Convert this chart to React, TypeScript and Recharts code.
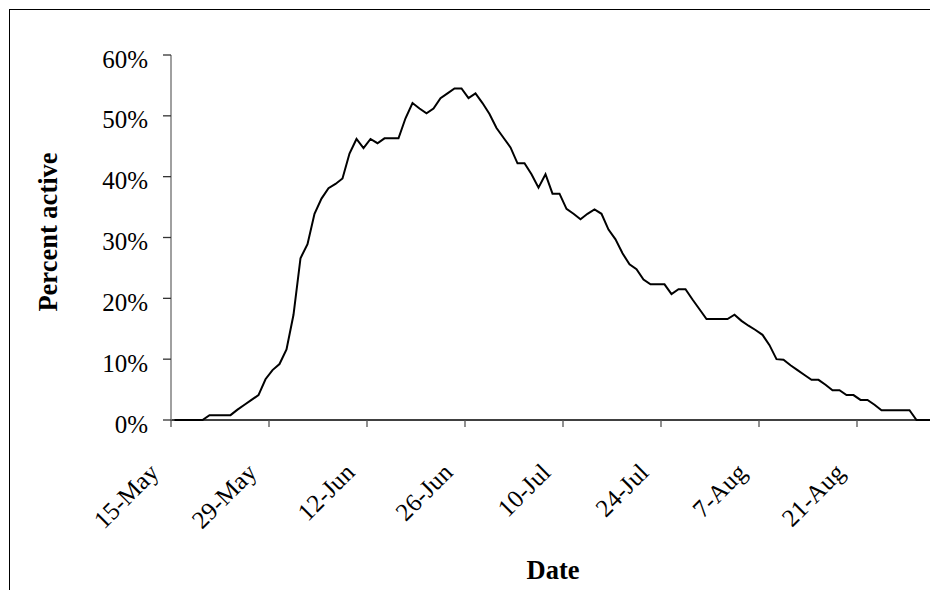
import React from 'react';
import { LineChart, Line, XAxis, YAxis, Label } from 'recharts';

// days since 15-May where the date ticks sit
const tickDays = [0, 14, 28, 42, 56, 70, 84, 98];
const tickLabels = ['15-May', '29-May', '12-Jun', '26-Jun', '10-Jul', '24-Jul', '7-Aug', '21-Aug'];
const yTicks = [0, 10, 20, 30, 40, 50, 60];

// percent active, one value per day starting 15-May
const activePct = [
    0, 0, 0, 0, 0, 0.8, 0.8, 0.8, 0.8, 1.7,
    2.5, 3.3, 4.1, 6.7, 8.2, 9.2, 11.6, 17.3, 26.6, 28.9,
    33.9, 36.4, 38.1, 38.8, 39.7, 43.8, 46.2, 44.7, 46.2, 45.5,
    46.3, 46.3, 46.3, 49.6, 52.1, 51.2, 50.4, 51.2, 52.9, 53.7,
    54.5, 54.5, 52.9, 53.7, 52.1, 50.3, 48.0, 46.4, 44.8, 42.2,
    42.2, 40.4, 38.2, 40.4, 37.2, 37.2, 34.7, 33.9, 33.0, 33.9,
    34.6, 33.9, 31.3, 29.7, 27.4, 25.6, 24.8, 23.1, 22.3, 22.3,
    22.3, 20.7, 21.5, 21.5, 19.8, 18.2, 16.6, 16.6, 16.6, 16.6,
    17.3, 16.3, 15.5, 14.8, 14.0, 12.3, 10.0, 9.9, 9.0, 8.2,
    7.4, 6.6, 6.6, 5.8, 4.9, 4.9, 4.1, 4.1, 3.3, 3.3,
    2.5, 1.6, 1.6, 1.6, 1.6, 1.6, 0, 0, 0,
];

// each day is plotted in the middle of its slot
const data = activePct.map((pct, i) => ({ day: i + 0.5, pct }));

const FONT = '"Liberation Serif", "Times New Roman", serif';

const XTick = ({ x, y, payload }: { x: number; y: number; payload: { value: number } }) => {
    const label = tickLabels[tickDays.indexOf(payload.value)];
    const ax = x - 11;
    const ay = y + 45;
    return (
        <text x={ax} y={ay} transform={`rotate(-45, ${ax}, ${ay})`} textAnchor="end" fontSize={25} fill="#000" fontFamily={FONT}>
            {label}
        </text>
    );
};

const YTick = ({ x, y, payload }: { x: number; y: number; payload: { value: number } }) => (
    <text x={x - 13} y={y + 12.5} textAnchor="end" fontSize={25} fill="#000" fontFamily={FONT}>
        {payload.value}%
    </text>
);

export default function App() {
    return (
        <div style={{ position: 'relative', width: 938, height: 598, margin: -8, overflow: 'hidden', background: '#fff' }}>
            <div style={{ position: 'absolute', left: 9, top: 9, width: 1000, height: 1000, border: '1.5px solid #000' }} />
            <div style={{ position: 'absolute', left: 0, top: 0 }}>
                <LineChart width={938} height={598} data={data} margin={{ top: 55, right: 4, left: 0, bottom: 0 }}>
                    <XAxis
                        type="number"
                        dataKey="day"
                        domain={[0, 109]}
                        ticks={tickDays}
                        interval={0}
                        height={178}
                        tickSize={7}
                        tickMargin={2}
                        axisLine={{ stroke: '#000', strokeWidth: 1.5 }}
                        tickLine={{ stroke: '#555', strokeWidth: 1.3 }}
                        tick={XTick}
                    >
                        <Label
                            content={() => (
                                <text x={553} y={579} textAnchor="middle" fontSize={26.5} fontWeight="bold" fill="#000" fontFamily={FONT}>
                                    Date
                                </text>
                            )}
                        />
                    </XAxis>
                    <YAxis
                        type="number"
                        domain={[0, 60]}
                        ticks={yTicks}
                        interval={0}
                        width={171}
                        tickSize={8}
                        tickMargin={2}
                        axisLine={{ stroke: '#808080', strokeWidth: 1.5 }}
                        tickLine={{ stroke: '#333', strokeWidth: 1.3 }}
                        tick={YTick}
                    >
                        <Label
                            content={() => (
                                <text x={57} y={232} transform="rotate(-90, 57, 232)" textAnchor="middle" fontSize={26.5} fontWeight="bold" fill="#000" fontFamily={FONT}>
                                    Percent active
                                </text>
                            )}
                        />
                    </YAxis>
                    <Line
                        type="linear"
                        dataKey="pct"
                        stroke="#000"
                        strokeWidth={2}
                        dot={false}
                        isAnimationActive={false}
                    />
                </LineChart>
            </div>
        </div>
    );
}
